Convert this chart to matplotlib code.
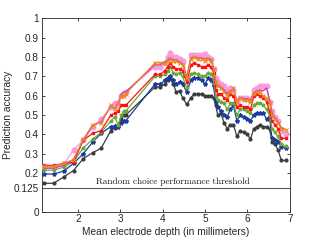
import matplotlib
matplotlib.use("Agg")
import matplotlib.pyplot as plt

depth = [1.21, 1.43, 1.67, 1.90, 2.13, 2.35, 2.55, 2.78, 2.87, 2.95, 3.03, 3.08, 3.13,
         3.82, 3.95, 4.05, 4.12, 4.18, 4.25, 4.32, 4.40, 4.47, 4.57, 4.67, 4.75, 4.83,
         4.92, 5.00, 5.07, 5.15, 5.20, 5.25, 5.30, 5.37, 5.45, 5.52, 5.60, 5.67, 5.75,
         5.83, 5.92, 6.00, 6.07, 6.15, 6.22, 6.30, 6.37, 6.45, 6.52, 6.58, 6.65, 6.72,
         6.80, 6.90]

pink = [0.230, 0.230, 0.245, 0.320, 0.370, 0.440, 0.480, 0.540, 0.560, 0.550, 0.600, 0.610, 0.620,
        0.750, 0.750, 0.770, 0.800, 0.820, 0.800, 0.800, 0.790, 0.780, 0.700, 0.810, 0.810, 0.810,
        0.810, 0.815, 0.800, 0.790, 0.740, 0.690, 0.670, 0.660, 0.650, 0.630, 0.640, 0.630, 0.570,
        0.590, 0.590, 0.590, 0.580, 0.630, 0.640, 0.650, 0.650, 0.650, 0.570, 0.520, 0.490, 0.470,
        0.420, 0.400]

magenta = [0.225, 0.225, 0.240, 0.270, 0.370, 0.445, 0.465, 0.545, 0.535, 0.565, 0.610, 0.620, 0.620,
           0.760, 0.760, 0.775, 0.785, 0.795, 0.785, 0.785, 0.775, 0.765, 0.695, 0.795, 0.800, 0.795,
           0.795, 0.790, 0.795, 0.785, 0.745, 0.675, 0.655, 0.645, 0.630, 0.610, 0.625, 0.635, 0.575,
           0.590, 0.585, 0.585, 0.575, 0.615, 0.625, 0.630, 0.625, 0.640, 0.580, 0.510, 0.485, 0.465,
           0.435, 0.425]

orange = [0.235, 0.235, 0.250, 0.270, 0.375, 0.450, 0.460, 0.550, 0.530, 0.560, 0.600, 0.600, 0.610,
          0.770, 0.770, 0.770, 0.780, 0.790, 0.780, 0.780, 0.770, 0.760, 0.690, 0.790, 0.800, 0.790,
          0.790, 0.780, 0.790, 0.780, 0.740, 0.670, 0.650, 0.640, 0.620, 0.600, 0.620, 0.640, 0.570,
          0.590, 0.580, 0.580, 0.570, 0.610, 0.620, 0.620, 0.600, 0.590, 0.560, 0.500, 0.480, 0.460,
          0.430, 0.425]

red = [0.240, 0.240, 0.250, 0.255, 0.370, 0.405, 0.420, 0.500, 0.510, 0.520, 0.550, 0.550, 0.550,
       0.710, 0.710, 0.730, 0.750, 0.770, 0.750, 0.740, 0.740, 0.730, 0.670, 0.760, 0.770, 0.760,
       0.750, 0.750, 0.760, 0.750, 0.720, 0.630, 0.610, 0.610, 0.590, 0.580, 0.610, 0.600, 0.540,
       0.550, 0.540, 0.540, 0.530, 0.600, 0.610, 0.600, 0.590, 0.570, 0.520, 0.470, 0.450, 0.430,
       0.380, 0.380]

green = [0.215, 0.215, 0.230, 0.260, 0.330, 0.375, 0.410, 0.470, 0.490, 0.450, 0.500, 0.520, 0.520,
         0.700, 0.700, 0.710, 0.730, 0.750, 0.720, 0.710, 0.720, 0.700, 0.640, 0.710, 0.720, 0.710,
         0.700, 0.700, 0.720, 0.710, 0.680, 0.600, 0.580, 0.570, 0.560, 0.530, 0.560, 0.560, 0.500,
         0.530, 0.530, 0.520, 0.510, 0.550, 0.560, 0.560, 0.550, 0.530, 0.500, 0.430, 0.410, 0.390,
         0.350, 0.340]

blue = [0.195, 0.195, 0.210, 0.250, 0.300, 0.360, 0.405, 0.440, 0.445, 0.440, 0.460, 0.470, 0.470,
        0.660, 0.660, 0.680, 0.690, 0.700, 0.680, 0.660, 0.670, 0.660, 0.620, 0.680, 0.690, 0.690,
        0.680, 0.660, 0.690, 0.680, 0.650, 0.570, 0.540, 0.520, 0.500, 0.490, 0.530, 0.550, 0.470,
        0.500, 0.490, 0.480, 0.470, 0.500, 0.510, 0.510, 0.510, 0.480, 0.490, 0.380, 0.370, 0.360,
        0.335, 0.330]

black = [0.147, 0.147, 0.180, 0.213, 0.275, 0.305, 0.328, 0.420, 0.435, 0.450, 0.480, 0.500, 0.500,
         0.645, 0.645, 0.660, 0.680, 0.690, 0.660, 0.620, 0.625, 0.590, 0.555, 0.590, 0.610, 0.610,
         0.610, 0.600, 0.600, 0.600, 0.590, 0.550, 0.500, 0.510, 0.460, 0.430, 0.450, 0.450, 0.390,
         0.420, 0.410, 0.400, 0.375, 0.430, 0.440, 0.450, 0.440, 0.440, 0.430, 0.360, 0.350, 0.320,
         0.265, 0.265]

threshold = 0.125
threshold_label = "Random choice performance threshold"
yticks = [0, 0.125, 0.2, 0.3, 0.4, 0.5, 0.6, 0.7, 0.8, 0.9, 1]
yticklabels = ["0", "0.125", "0.2", "0.3", "0.4", "0.5", "0.6", "0.7", "0.8", "0.9", "1"]
xticks = [2, 3, 4, 5, 6, 7]

plt.rcParams['font.family'] = ['Liberation Sans', 'DejaVu Sans']

fig = plt.figure(figsize=(3.21, 2.41), dpi=100)
ax = fig.add_axes([0.130, 0.1216, 0.773, 0.802])

lw = 0.9
ax.plot(depth, black, color='#3c3c3c', lw=lw, marker='o', ms=2.0, zorder=3)
ax.plot(depth, blue, color='#1d3b9a', lw=lw, marker='*', ms=3.0, zorder=4)
ax.plot(depth, green, color='#6aaa3a', lw=lw, marker='*', ms=2.6, zorder=5)
ax.plot(depth, red, color='#ff1010', lw=lw, marker='s', ms=1.9, zorder=6)
ax.plot(depth, pink, color='#ff99dd', lw=lw, marker='o', ms=3.4, zorder=4.5)
ax.plot(depth, magenta, color='#c030d0', lw=lw, zorder=6.5)
ax.plot(depth, orange, color='#e8891c', lw=lw, marker='x', ms=2.6, mew=0.8, zorder=7)

ax.axhline(threshold, color='#555555', lw=0.8, zorder=2)
ax.text(4.25, threshold + 0.008, threshold_label, ha='center', va='bottom',
        fontsize=6.6, fontname='cmr10', color='#111111')

ax.set_xlim(1.15, 7)
ax.set_ylim(0, 1)
ax.set_xticks(xticks)
ax.set_yticks(yticks)
ax.set_yticklabels(yticklabels)
ax.tick_params(direction='in', length=2.0, width=0.6, labelsize=7.2, colors='#262626',
               top=True, right=True, pad=2)
for s in ax.spines.values():
    s.set_color('#262626')
    s.set_linewidth(0.6)
ax.set_xlabel("Mean electrode depth (in millimeters)", fontsize=7.3, color='#262626', labelpad=2)
ax.set_ylabel("Prediction accuracy", fontsize=7.3, color='#262626')
ax.yaxis.set_label_coords(-0.115, 0.5)

fig.savefig("out.png", dpi=100)
